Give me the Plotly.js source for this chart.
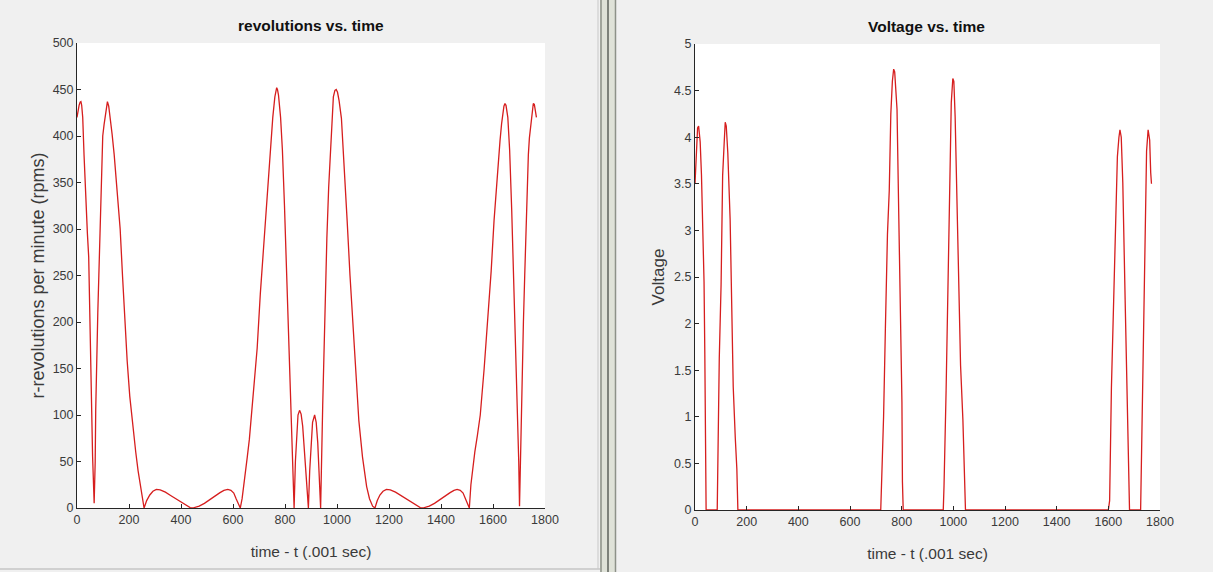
<!DOCTYPE html>
<html>
<head>
<meta charset="utf-8">
<script src="https://cdn.plot.ly/plotly-3.0.1.min.js"></script>
<style>
html,body{margin:0;padding:0;background:#f0f0f0;}
#chart{width:1213px;height:572px;}
</style>
</head>
<body>
<div id="chart"></div>
<script>
// ---- data ----
const timeRpm = [0, 4, 8, 12, 15, 18, 22, 27, 33, 40, 45, 48, 52, 56, 60, 66, 70, 72, 75, 80, 84, 89, 93, 99, 104, 108, 112, 117, 122, 128, 135, 143, 155, 166, 175, 184, 193, 203, 214, 226, 235, 244, 251, 258,
  268, 280, 292, 305, 320, 340, 360, 380, 400, 420, 435, 445, 455, 470, 490, 510, 530, 550, 565, 580, 592, 603, 612, 620, 628,
  635, 645, 655, 663, 675, 685, 693, 705, 715, 723, 733, 745, 753, 761, 765, 768, 771, 775, 783, 790, 798, 805, 813, 820, 825, 830, 835,
  840, 845, 850, 856, 862, 868, 875, 880, 885, 890, 895, 900, 906, 914, 920, 926, 932, 937,
  945, 952, 961, 968, 976, 982, 986, 992, 997, 1002, 1008, 1017, 1028, 1039, 1050, 1062, 1073, 1084, 1098, 1114, 1125, 1137, 1146,
  1155, 1165, 1177, 1190, 1205, 1225, 1245, 1265, 1285, 1305, 1320, 1330, 1340, 1355, 1375, 1395, 1415, 1435, 1450, 1462, 1474, 1485, 1494, 1502, 1509,
  1515, 1522, 1530, 1540, 1551, 1566, 1581, 1593, 1604, 1615, 1627, 1633, 1638, 1642, 1646, 1650, 1657, 1664, 1672, 1678, 1684, 1689, 1694, 1699, 1702,
  1705, 1708, 1712, 1717, 1722, 1727, 1732, 1736, 1740, 1744, 1749, 1755, 1759, 1762, 1767];
const rpm = [420, 428, 433, 436.5, 437, 433, 420, 380, 330, 295, 270, 220, 160, 100, 55, 5, 50, 105, 160, 210, 250, 295, 330, 400, 412, 420, 430, 437, 432, 420, 402, 380, 340, 300, 250, 200, 158, 120, 88, 60, 40, 25, 12, 0,
  8, 14, 18, 20, 19.5, 17, 13.5, 10, 6.5, 3, 0.5, 0, 0.5, 2, 5, 9, 13, 16.5, 19, 20, 19, 16, 10, 4, 0,
  10, 30, 55, 74, 115, 145, 172, 230, 270, 294, 345, 388, 420, 442, 450, 452, 450, 444, 420, 385, 325, 262, 192, 125, 74, 35, 0,
  50, 85, 100, 105, 101, 88, 62, 38, 15, 0, 40, 70, 92, 100, 92, 70, 38, 0,
  110, 200, 290, 345, 388, 425, 442, 449, 450, 447, 438, 419, 370, 309, 250, 192, 140, 94, 55, 23, 10, 2, 0,
  8, 14, 18, 20, 19.5, 17, 13.5, 10, 6.5, 3, 0.5, 0, 0.5, 2, 5, 9, 13, 16.5, 19, 20, 19, 16, 10, 4, 0,
  25, 42, 60, 78, 100, 150, 204, 255, 309, 355, 395, 413, 425, 432, 435, 433, 420, 385, 320, 265, 207, 160, 110, 50, 2,
  50, 100, 148, 200, 250, 300, 345, 380, 398, 410, 425, 435, 434, 430, 420];

const timeVolt = [0, 5, 10, 14, 20, 25, 29, 35, 38, 41, 43, 86, 89, 94, 101, 107, 113, 117, 121, 127, 136, 141, 148, 156, 162, 166,
  719, 725, 730, 737, 745, 752, 758, 764, 769, 773, 776, 782, 789, 795, 801, 803, 806,
  961, 964, 972, 978, 982, 987, 992, 998, 1002, 1007, 1013, 1020, 1028, 1037, 1043, 1047,
  1600, 1605, 1612, 1620, 1627, 1635, 1641, 1645, 1650, 1656, 1665, 1671, 1674, 1680, 1682,
  1725, 1729, 1735, 1739, 1744, 1748, 1754, 1760, 1764, 1767];
const volt = [3.5, 3.85, 4.1, 4.12, 3.95, 3.6, 3.12, 2.45, 1.67, 0.75, 0, 0, 0.69, 1.63, 2.42, 3.59, 3.94, 4.16, 4.12, 3.83, 3.12, 2.26, 1.32, 0.77, 0.44, 0,
  0, 0.54, 1.0, 1.95, 2.96, 3.43, 4.25, 4.6, 4.73, 4.7, 4.57, 4.3, 3.12, 2.14, 1.16, 0.3, 0,
  0, 0.26, 1.28, 2.18, 3.04, 3.75, 4.37, 4.63, 4.6, 4.22, 3.43, 2.45, 1.55, 0.97, 0.26, 0,
  0, 0.1, 1.32, 2.26, 3.12, 3.79, 4.0, 4.08, 4.0, 3.51, 2.26, 1.44, 1.2, 0.52, 0,
  0, 0.75, 1.63, 2.47, 3.3, 3.85, 4.08, 3.97, 3.62, 3.5];

const xTicks = [0, 200, 400, 600, 800, 1000, 1200, 1400, 1600, 1800];
const rpmTicks = [0, 50, 100, 150, 200, 250, 300, 350, 400, 450, 500];
const voltTicks = [0, 0.5, 1, 1.5, 2, 2.5, 3, 3.5, 4, 4.5, 5];

const titles = {
  left: "revolutions vs. time",
  right: "Voltage vs. time",
  xLabel: "time - t (.001 sec)",
  yLeft: "r-revolutions per minute (rpms)",
  yRight: "Voltage"
};

// ---- styling ----
const W = 1213, H = 572;
const px = v => v / W;
const py = v => 1 - v / H;
const FONT = "Liberation Sans, Arial, Helvetica, sans-serif";
const AX = "#262626";
const TXT = "#3a3a3a";
const RED = "rgb(214,30,30)";

function axisCommon(extra) {
  return Object.assign({
    showline: true, linecolor: AX, linewidth: 1,
    ticks: "inside", ticklen: 4, tickcolor: AX, tickwidth: 1,
    showgrid: false, zeroline: false, mirror: false,
    tickfont: {family: FONT, size: 12.5, color: TXT},
    fixedrange: true
  }, extra);
}

const traces = [
  {x: timeRpm, y: rpm, type: "scatter", mode: "lines", xaxis: "x", yaxis: "y",
   line: {color: RED, width: 1.3}, hoverinfo: "x+y", showlegend: false},
  {x: timeVolt, y: volt, type: "scatter", mode: "lines", xaxis: "x2", yaxis: "y2",
   line: {color: RED, width: 1.3}, hoverinfo: "x+y", showlegend: false}
];

const layout = {
  width: W, height: H,
  margin: {l: 0, r: 0, t: 0, b: 0, pad: 0},
  paper_bgcolor: "#f0f0f0",
  plot_bgcolor: "#ffffff",
  showlegend: false,
  xaxis: axisCommon({domain: [px(77), px(545)], range: [0, 1800], tickvals: xTicks,
    anchor: "y", title: {text: titles.xLabel, font: {family: FONT, size: 15.5, color: TXT}, standoff: 20}}),
  yaxis: axisCommon({domain: [1 - 508 / H, 1 - 43 / H], range: [0, 500], tickvals: rpmTicks,
    anchor: "x", title: {text: titles.yLeft, font: {family: FONT, size: 18, color: TXT}, standoff: 3}}),
  xaxis2: axisCommon({domain: [px(695), px(1160)], range: [0, 1800], tickvals: xTicks,
    anchor: "y2", title: {text: titles.xLabel, font: {family: FONT, size: 15.5, color: TXT}, standoff: 20}}),
  yaxis2: axisCommon({domain: [1 - 510 / H, 1 - 44 / H], range: [0, 5], tickvals: voltTicks,
    anchor: "x2", title: {text: titles.yRight, font: {family: FONT, size: 17, color: TXT}, standoff: 5}}),
  annotations: [
    {text: "<b>" + titles.left + "</b>", xref: "paper", yref: "paper", x: px(311), y: py(25),
     xanchor: "center", yanchor: "middle", showarrow: false, font: {family: FONT, size: 15.5, color: "#111"}},
    {text: "<b>" + titles.right + "</b>", xref: "paper", yref: "paper", x: px(926), y: py(27),
     xanchor: "center", yanchor: "middle", showarrow: false, font: {family: FONT, size: 15.5, color: "#111"}}
  ],
  shapes: [
    // window separator
    {type: "rect", xref: "paper", yref: "paper", x0: px(600), x1: px(616), y0: 0, y1: 1,
     fillcolor: "#dfe2d8", line: {width: 0}, layer: "above"},
    {type: "line", xref: "paper", yref: "paper", x0: px(601), x1: px(601), y0: 0, y1: 1,
     line: {color: "#8d9188", width: 1.5}},
    {type: "line", xref: "paper", yref: "paper", x0: px(608), x1: px(608), y0: 0, y1: 1,
     line: {color: "#5e625c", width: 1.5}},
    {type: "line", xref: "paper", yref: "paper", x0: px(615.5), x1: px(615.5), y0: 0, y1: 1,
     line: {color: "#8d9188", width: 1.5}},
    // left window bottom border
    {type: "line", xref: "paper", yref: "paper", x0: 0, x1: px(600), y0: py(569), y1: py(569),
     line: {color: "#b0b0b0", width: 1}},
    {type: "line", xref: "paper", yref: "paper", x0: px(598), x1: px(598), y0: py(569), y1: 1,
     line: {color: "#c8c8c8", width: 1}}
  ]
};

Plotly.newPlot("chart", traces, layout, {displayModeBar: false, staticPlot: true});
</script>
</body>
</html>
